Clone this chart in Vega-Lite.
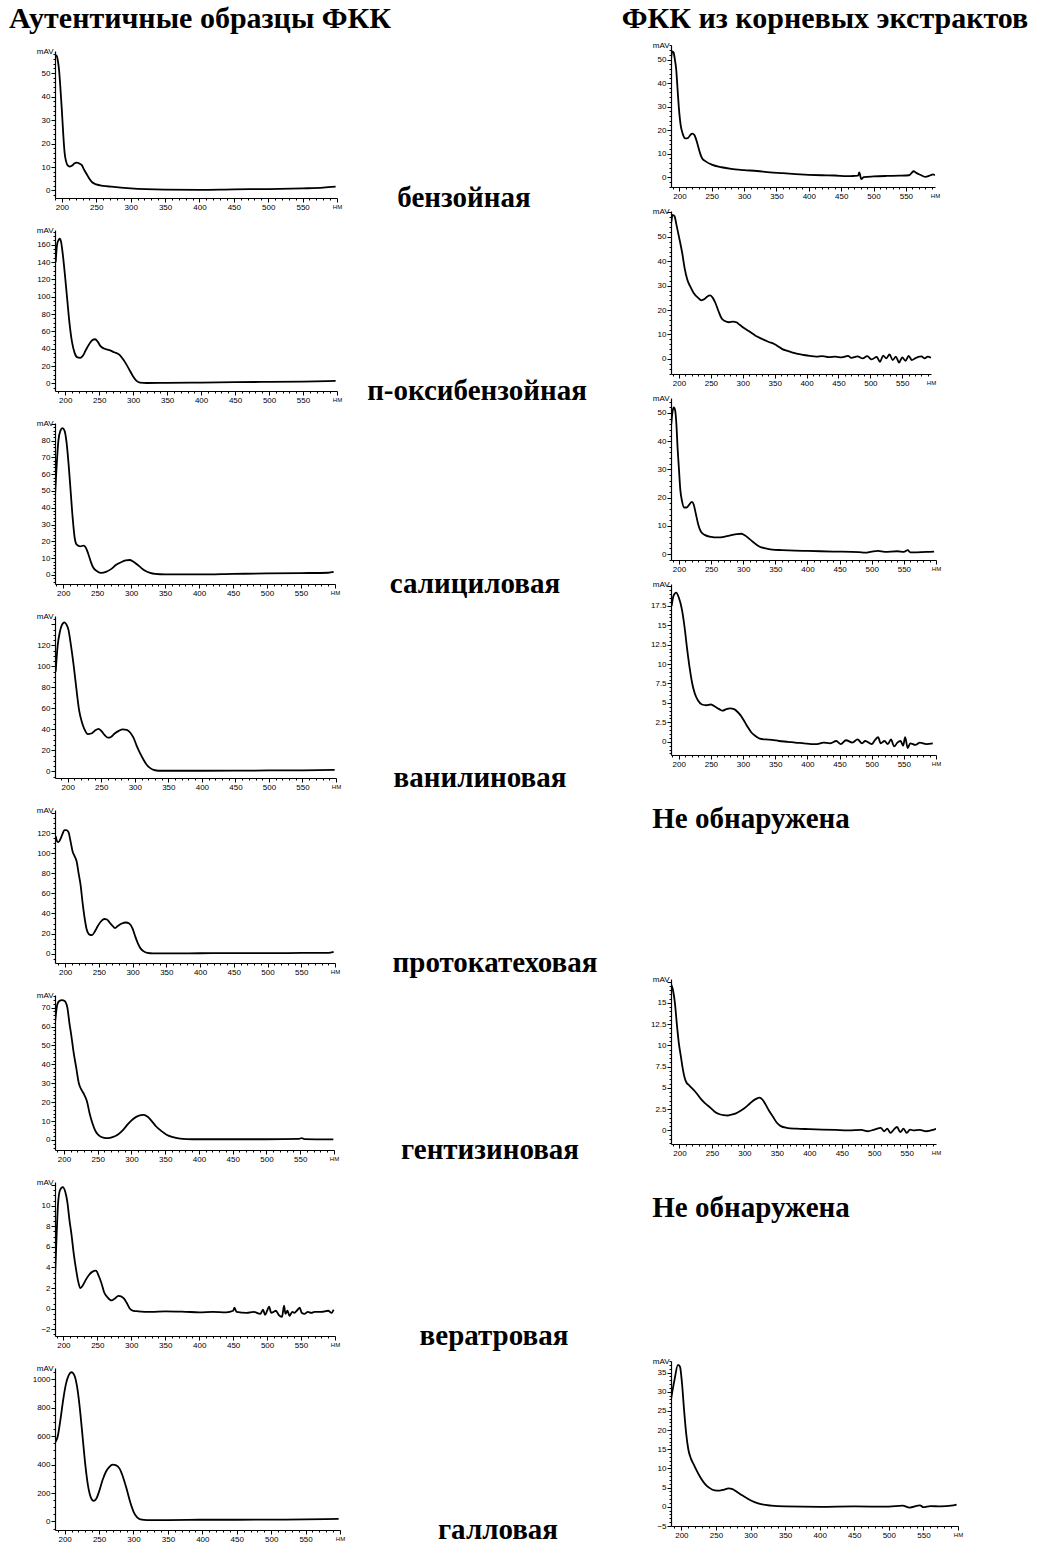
{
"$schema": "https://vega.github.io/schema/vega-lite/v6.json",
"background": "white",
"padding": {"left": 8, "top": 4, "right": 0, "bottom": 0},
"spacing": 23,
"datasets": {
"hdr_l": [{"t": "Аутентичные образцы ФКК"}],
"hdr_r": [{"t": "ФКК из корневых экстрактов"}],
"note": [{"t": "Не обнаружена"}],
"benz_a": [{"nm":190,"mAV":57},{"nm":192,"mAV":57.5},{"nm":194,"mAV":55.5},{"nm":196,"mAV":51},{"nm":198,"mAV":43},{"nm":200,"mAV":34},{"nm":202,"mAV":24},{"nm":204,"mAV":16},{"nm":206,"mAV":12.5},{"nm":209,"mAV":10.5},{"nm":212,"mAV":10.2},{"nm":215,"mAV":10.6},{"nm":218,"mAV":11.5},{"nm":222,"mAV":11.9},{"nm":226,"mAV":11.4},{"nm":229,"mAV":10.8},{"nm":232,"mAV":9},{"nm":236,"mAV":7},{"nm":240,"mAV":5},{"nm":244,"mAV":3.5},{"nm":250,"mAV":2.6},{"nm":260,"mAV":2},{"nm":272,"mAV":1.6},{"nm":300,"mAV":0.9},{"nm":350,"mAV":0.4},{"nm":400,"mAV":0.3},{"nm":450,"mAV":0.5},{"nm":500,"mAV":0.6},{"nm":550,"mAV":0.9},{"nm":580,"mAV":1.2},{"nm":598,"mAV":1.6}],
"benz_r": [{"nm":187,"mAV":50},{"nm":189,"mAV":53.5},{"nm":191,"mAV":53},{"nm":193,"mAV":50},{"nm":195,"mAV":46},{"nm":197,"mAV":38},{"nm":199,"mAV":30},{"nm":202,"mAV":22},{"nm":205,"mAV":18.5},{"nm":209,"mAV":16.5},{"nm":213,"mAV":16.6},{"nm":217,"mAV":18},{"nm":220,"mAV":18.5},{"nm":223,"mAV":18},{"nm":227,"mAV":15},{"nm":231,"mAV":11},{"nm":235,"mAV":8},{"nm":240,"mAV":6.8},{"nm":250,"mAV":5.3},{"nm":265,"mAV":4.2},{"nm":280,"mAV":3.5},{"nm":300,"mAV":3},{"nm":320,"mAV":2.6},{"nm":340,"mAV":2},{"nm":360,"mAV":1.7},{"nm":380,"mAV":1.3},{"nm":400,"mAV":1.0},{"nm":420,"mAV":0.8},{"nm":440,"mAV":0.7},{"nm":460,"mAV":0.4},{"nm":470,"mAV":0.5},{"nm":476,"mAV":0.6},{"nm":478,"mAV":2.0},{"nm":481,"mAV":-0.8},{"nm":485,"mAV":0},{"nm":500,"mAV":0.3},{"nm":520,"mAV":0.5},{"nm":540,"mAV":0.6},{"nm":555,"mAV":0.8},{"nm":562,"mAV":2.5},{"nm":566,"mAV":1.8},{"nm":572,"mAV":1.0},{"nm":580,"mAV":0.1},{"nm":588,"mAV":0.8},{"nm":592,"mAV":1.2},{"nm":595,"mAV":0.8}],
"phb_a": [{"nm":186,"mAV":140},{"nm":188,"mAV":160},{"nm":190,"mAV":165},{"nm":192,"mAV":167},{"nm":194,"mAV":163},{"nm":196,"mAV":152},{"nm":198,"mAV":138},{"nm":200,"mAV":122},{"nm":203,"mAV":97},{"nm":206,"mAV":72},{"nm":210,"mAV":48},{"nm":214,"mAV":35},{"nm":218,"mAV":30},{"nm":222,"mAV":29.5},{"nm":226,"mAV":32},{"nm":230,"mAV":38},{"nm":235,"mAV":45},{"nm":240,"mAV":50},{"nm":244,"mAV":51},{"nm":248,"mAV":48},{"nm":252,"mAV":43},{"nm":258,"mAV":40},{"nm":265,"mAV":38.5},{"nm":272,"mAV":36},{"nm":280,"mAV":33},{"nm":286,"mAV":27},{"nm":290,"mAV":22},{"nm":295,"mAV":15},{"nm":300,"mAV":8},{"nm":305,"mAV":3},{"nm":310,"mAV":1},{"nm":320,"mAV":0.5},{"nm":350,"mAV":0.7},{"nm":400,"mAV":1},{"nm":450,"mAV":1.5},{"nm":500,"mAV":1.8},{"nm":550,"mAV":2.2},{"nm":598,"mAV":3}],
"phb_r": [{"nm":188,"mAV":56},{"nm":190,"mAV":59},{"nm":193,"mAV":58.5},{"nm":196,"mAV":55},{"nm":200,"mAV":50},{"nm":205,"mAV":43.5},{"nm":209,"mAV":37},{"nm":213,"mAV":32.5},{"nm":218,"mAV":29.5},{"nm":223,"mAV":27},{"nm":230,"mAV":25},{"nm":235,"mAV":24},{"nm":240,"mAV":24.5},{"nm":244,"mAV":25.5},{"nm":249,"mAV":26},{"nm":253,"mAV":25},{"nm":257,"mAV":23},{"nm":262,"mAV":19.5},{"nm":267,"mAV":16.5},{"nm":272,"mAV":15.5},{"nm":278,"mAV":15},{"nm":285,"mAV":15.3},{"nm":290,"mAV":15},{"nm":295,"mAV":14},{"nm":300,"mAV":13},{"nm":310,"mAV":11.3},{"nm":320,"mAV":9.5},{"nm":330,"mAV":8.2},{"nm":340,"mAV":7},{"nm":350,"mAV":6},{"nm":355,"mAV":5.2},{"nm":362,"mAV":4},{"nm":370,"mAV":3.3},{"nm":378,"mAV":2.6},{"nm":386,"mAV":2},{"nm":395,"mAV":1.6},{"nm":405,"mAV":1.2},{"nm":415,"mAV":0.9},{"nm":425,"mAV":1.1},{"nm":435,"mAV":0.7},{"nm":445,"mAV":0.9},{"nm":455,"mAV":0.6},{"nm":465,"mAV":1.2},{"nm":470,"mAV":0.4},{"nm":480,"mAV":1.0},{"nm":488,"mAV":0.2},{"nm":495,"mAV":1.1},{"nm":502,"mAV":-0.2},{"nm":510,"mAV":0.8},{"nm":515,"mAV":-1.2},{"nm":520,"mAV":1.3},{"nm":525,"mAV":0.2},{"nm":530,"mAV":1.8},{"nm":535,"mAV":-0.5},{"nm":540,"mAV":0.9},{"nm":545,"mAV":-1.5},{"nm":550,"mAV":0.6},{"nm":555,"mAV":-0.8},{"nm":560,"mAV":1.2},{"nm":565,"mAV":-0.5},{"nm":570,"mAV":0.2},{"nm":575,"mAV":0.8},{"nm":580,"mAV":1.0},{"nm":585,"mAV":0.2},{"nm":590,"mAV":0.9},{"nm":595,"mAV":0.5}],
"sal_a": [{"nm":188,"mAV":47},{"nm":190,"mAV":62},{"nm":193,"mAV":80},{"nm":196,"mAV":86},{"nm":199,"mAV":87.5},{"nm":202,"mAV":86},{"nm":205,"mAV":79},{"nm":208,"mAV":66},{"nm":211,"mAV":50},{"nm":214,"mAV":34},{"nm":217,"mAV":22},{"nm":220,"mAV":18},{"nm":225,"mAV":17},{"nm":230,"mAV":17.5},{"nm":233,"mAV":16.5},{"nm":237,"mAV":12.5},{"nm":241,"mAV":7.5},{"nm":244,"mAV":4.6},{"nm":250,"mAV":2.2},{"nm":256,"mAV":1.2},{"nm":263,"mAV":1.8},{"nm":271,"mAV":3.6},{"nm":278,"mAV":6},{"nm":286,"mAV":7.7},{"nm":292,"mAV":8.6},{"nm":298,"mAV":8.9},{"nm":303,"mAV":8},{"nm":308,"mAV":6.5},{"nm":314,"mAV":4.5},{"nm":320,"mAV":2.6},{"nm":328,"mAV":1.2},{"nm":335,"mAV":0.6},{"nm":350,"mAV":0.3},{"nm":400,"mAV":0.3},{"nm":450,"mAV":0.6},{"nm":500,"mAV":0.9},{"nm":550,"mAV":1.1},{"nm":590,"mAV":1.3},{"nm":598,"mAV":1.8}],
"sal_r": [{"nm":188,"mAV":46},{"nm":190,"mAV":50.5},{"nm":192,"mAV":52},{"nm":194,"mAV":51},{"nm":196,"mAV":46},{"nm":198,"mAV":37},{"nm":200,"mAV":30},{"nm":202,"mAV":23},{"nm":205,"mAV":18.5},{"nm":208,"mAV":16.5},{"nm":212,"mAV":16.5},{"nm":216,"mAV":17.5},{"nm":220,"mAV":18.5},{"nm":223,"mAV":17.5},{"nm":226,"mAV":14.5},{"nm":230,"mAV":10.5},{"nm":234,"mAV":8},{"nm":240,"mAV":6.8},{"nm":250,"mAV":6.1},{"nm":260,"mAV":5.9},{"nm":270,"mAV":6.1},{"nm":280,"mAV":6.6},{"nm":290,"mAV":7.1},{"nm":297,"mAV":7.2},{"nm":303,"mAV":6.6},{"nm":310,"mAV":5.3},{"nm":318,"mAV":3.8},{"nm":325,"mAV":2.7},{"nm":335,"mAV":2},{"nm":345,"mAV":1.6},{"nm":360,"mAV":1.4},{"nm":380,"mAV":1.2},{"nm":400,"mAV":1.1},{"nm":440,"mAV":0.9},{"nm":480,"mAV":0.7},{"nm":490,"mAV":0.5},{"nm":500,"mAV":0.9},{"nm":510,"mAV":1.1},{"nm":520,"mAV":0.8},{"nm":540,"mAV":1.0},{"nm":550,"mAV":0.8},{"nm":556,"mAV":1.4},{"nm":560,"mAV":0.6},{"nm":570,"mAV":0.6},{"nm":590,"mAV":0.8},{"nm":597,"mAV":0.9}],
"van_a": [{"nm":182,"mAV":95},{"nm":185,"mAV":120},{"nm":188,"mAV":132},{"nm":191,"mAV":139},{"nm":195,"mAV":142},{"nm":198,"mAV":140},{"nm":201,"mAV":135},{"nm":205,"mAV":119},{"nm":209,"mAV":100},{"nm":213,"mAV":78},{"nm":217,"mAV":58},{"nm":221,"mAV":47},{"nm":225,"mAV":40},{"nm":230,"mAV":35.5},{"nm":235,"mAV":36},{"nm":240,"mAV":38.5},{"nm":246,"mAV":40.5},{"nm":250,"mAV":38.5},{"nm":255,"mAV":34.5},{"nm":260,"mAV":32},{"nm":265,"mAV":33},{"nm":270,"mAV":36},{"nm":276,"mAV":38.5},{"nm":282,"mAV":40},{"nm":288,"mAV":39.5},{"nm":293,"mAV":37},{"nm":298,"mAV":32},{"nm":303,"mAV":24},{"nm":308,"mAV":17},{"nm":313,"mAV":11},{"nm":318,"mAV":6},{"nm":323,"mAV":3},{"nm":330,"mAV":1},{"nm":340,"mAV":0.5},{"nm":400,"mAV":0.5},{"nm":450,"mAV":0.6},{"nm":500,"mAV":0.8},{"nm":550,"mAV":0.9},{"nm":598,"mAV":1.3}],
"van_r": [{"nm":189,"mAV":17.5},{"nm":192,"mAV":18.8},{"nm":196,"mAV":19.2},{"nm":200,"mAV":18.6},{"nm":205,"mAV":17},{"nm":209,"mAV":14.8},{"nm":213,"mAV":12},{"nm":217,"mAV":9.5},{"nm":221,"mAV":7.5},{"nm":225,"mAV":6.2},{"nm":230,"mAV":5.3},{"nm":236,"mAV":4.8},{"nm":243,"mAV":4.7},{"nm":250,"mAV":4.8},{"nm":257,"mAV":4.5},{"nm":263,"mAV":4.2},{"nm":268,"mAV":4.0},{"nm":274,"mAV":4.2},{"nm":280,"mAV":4.3},{"nm":286,"mAV":4.2},{"nm":292,"mAV":3.8},{"nm":298,"mAV":3.2},{"nm":303,"mAV":2.5},{"nm":308,"mAV":1.8},{"nm":313,"mAV":1.2},{"nm":320,"mAV":0.7},{"nm":326,"mAV":0.4},{"nm":335,"mAV":0.3},{"nm":345,"mAV":0.25},{"nm":356,"mAV":0.1},{"nm":370,"mAV":0},{"nm":381,"mAV":-0.1},{"nm":395,"mAV":-0.2},{"nm":406,"mAV":-0.3},{"nm":415,"mAV":-0.3},{"nm":425,"mAV":-0.1},{"nm":435,"mAV":-0.2},{"nm":445,"mAV":0.1},{"nm":452,"mAV":-0.3},{"nm":460,"mAV":0.2},{"nm":470,"mAV":-0.1},{"nm":478,"mAV":0.3},{"nm":485,"mAV":-0.2},{"nm":490,"mAV":0.1},{"nm":500,"mAV":-0.3},{"nm":505,"mAV":0.2},{"nm":510,"mAV":0.6},{"nm":514,"mAV":-0.2},{"nm":520,"mAV":0.1},{"nm":525,"mAV":-0.3},{"nm":530,"mAV":0.3},{"nm":535,"mAV":-0.6},{"nm":540,"mAV":-0.1},{"nm":545,"mAV":0.1},{"nm":549,"mAV":-0.5},{"nm":552,"mAV":0.6},{"nm":556,"mAV":-0.8},{"nm":560,"mAV":-0.2},{"nm":568,"mAV":-0.4},{"nm":575,"mAV":-0.1},{"nm":585,"mAV":-0.3},{"nm":595,"mAV":-0.2}],
"pro_a": [{"nm":186,"mAV":117},{"nm":188,"mAV":112},{"nm":190,"mAV":111},{"nm":193,"mAV":114},{"nm":196,"mAV":119},{"nm":199,"mAV":123},{"nm":202,"mAV":123},{"nm":205,"mAV":121},{"nm":208,"mAV":112},{"nm":211,"mAV":102},{"nm":214,"mAV":97},{"nm":217,"mAV":92},{"nm":220,"mAV":80},{"nm":223,"mAV":68},{"nm":226,"mAV":50},{"nm":229,"mAV":35},{"nm":232,"mAV":24},{"nm":236,"mAV":19},{"nm":240,"mAV":18.5},{"nm":244,"mAV":22},{"nm":248,"mAV":27},{"nm":253,"mAV":32},{"nm":258,"mAV":34.5},{"nm":262,"mAV":34},{"nm":266,"mAV":31},{"nm":270,"mAV":28},{"nm":274,"mAV":25.5},{"nm":278,"mAV":27.5},{"nm":284,"mAV":30},{"nm":290,"mAV":31},{"nm":295,"mAV":30},{"nm":300,"mAV":25},{"nm":304,"mAV":17},{"nm":308,"mAV":10},{"nm":312,"mAV":5},{"nm":316,"mAV":2.5},{"nm":322,"mAV":0.8},{"nm":330,"mAV":0.3},{"nm":350,"mAV":0.3},{"nm":400,"mAV":0.4},{"nm":450,"mAV":0.5},{"nm":500,"mAV":0.5},{"nm":550,"mAV":0.7},{"nm":590,"mAV":0.8},{"nm":598,"mAV":1.8}],
"gen_a": [{"nm":187,"mAV":63},{"nm":190,"mAV":71.5},{"nm":193,"mAV":73.5},{"nm":197,"mAV":74},{"nm":201,"mAV":73.5},{"nm":205,"mAV":70},{"nm":208,"mAV":62},{"nm":211,"mAV":55},{"nm":214,"mAV":47},{"nm":218,"mAV":38.5},{"nm":222,"mAV":30},{"nm":226,"mAV":26.5},{"nm":230,"mAV":24},{"nm":234,"mAV":20.5},{"nm":238,"mAV":14},{"nm":242,"mAV":9},{"nm":247,"mAV":4.5},{"nm":252,"mAV":2.3},{"nm":258,"mAV":1.3},{"nm":265,"mAV":1},{"nm":272,"mAV":1.5},{"nm":280,"mAV":2.9},{"nm":288,"mAV":5.5},{"nm":295,"mAV":8.5},{"nm":302,"mAV":11},{"nm":310,"mAV":12.8},{"nm":318,"mAV":13.3},{"nm":324,"mAV":12.3},{"nm":330,"mAV":10},{"nm":337,"mAV":7},{"nm":344,"mAV":4.8},{"nm":352,"mAV":2.8},{"nm":360,"mAV":1.6},{"nm":372,"mAV":0.7},{"nm":390,"mAV":0.4},{"nm":450,"mAV":0.4},{"nm":500,"mAV":0.4},{"nm":548,"mAV":0.6},{"nm":552,"mAV":1.0},{"nm":556,"mAV":0.5},{"nm":599,"mAV":0.3}],
"gen_r": [{"nm":187,"mAV":17.2},{"nm":190,"mAV":16.5},{"nm":193,"mAV":15},{"nm":196,"mAV":12.5},{"nm":199,"mAV":10.3},{"nm":202,"mAV":8.8},{"nm":205,"mAV":7.3},{"nm":208,"mAV":6.2},{"nm":211,"mAV":5.6},{"nm":215,"mAV":5.3},{"nm":220,"mAV":4.9},{"nm":226,"mAV":4.4},{"nm":232,"mAV":3.8},{"nm":238,"mAV":3.3},{"nm":244,"mAV":2.9},{"nm":250,"mAV":2.5},{"nm":256,"mAV":2.1},{"nm":262,"mAV":1.9},{"nm":268,"mAV":1.8},{"nm":274,"mAV":1.75},{"nm":280,"mAV":1.85},{"nm":287,"mAV":2.0},{"nm":294,"mAV":2.3},{"nm":300,"mAV":2.6},{"nm":306,"mAV":3.0},{"nm":312,"mAV":3.4},{"nm":318,"mAV":3.7},{"nm":323,"mAV":3.85},{"nm":328,"mAV":3.6},{"nm":333,"mAV":3.0},{"nm":338,"mAV":2.3},{"nm":344,"mAV":1.6},{"nm":350,"mAV":0.9},{"nm":356,"mAV":0.5},{"nm":365,"mAV":0.3},{"nm":380,"mAV":0.2},{"nm":400,"mAV":0.15},{"nm":420,"mAV":0.1},{"nm":440,"mAV":0.05},{"nm":460,"mAV":0},{"nm":480,"mAV":0.05},{"nm":490,"mAV":-0.1},{"nm":500,"mAV":0.1},{"nm":510,"mAV":0.3},{"nm":515,"mAV":-0.1},{"nm":520,"mAV":0.2},{"nm":525,"mAV":-0.3},{"nm":530,"mAV":0.1},{"nm":535,"mAV":0.4},{"nm":540,"mAV":-0.2},{"nm":545,"mAV":0.2},{"nm":550,"mAV":-0.3},{"nm":555,"mAV":0.1},{"nm":560,"mAV":0},{"nm":570,"mAV":0.05},{"nm":580,"mAV":-0.1},{"nm":590,"mAV":0.05},{"nm":595,"mAV":0.2}],
"ver_a": [{"nm":188,"mAV":3.5},{"nm":190,"mAV":7},{"nm":192,"mAV":10},{"nm":195,"mAV":11.5},{"nm":199,"mAV":11.8},{"nm":203,"mAV":11.3},{"nm":206,"mAV":10.3},{"nm":209,"mAV":8.6},{"nm":212,"mAV":7.2},{"nm":215,"mAV":5.5},{"nm":219,"mAV":3.7},{"nm":222,"mAV":2.6},{"nm":225,"mAV":2.0},{"nm":229,"mAV":2.3},{"nm":233,"mAV":2.8},{"nm":238,"mAV":3.3},{"nm":243,"mAV":3.6},{"nm":248,"mAV":3.7},{"nm":252,"mAV":3.2},{"nm":256,"mAV":2.5},{"nm":260,"mAV":1.6},{"nm":265,"mAV":1.1},{"nm":271,"mAV":0.8},{"nm":276,"mAV":1.0},{"nm":281,"mAV":1.25},{"nm":285,"mAV":1.2},{"nm":289,"mAV":1.0},{"nm":293,"mAV":0.6},{"nm":298,"mAV":0},{"nm":303,"mAV":-0.2},{"nm":310,"mAV":-0.25},{"nm":330,"mAV":-0.3},{"nm":350,"mAV":-0.25},{"nm":380,"mAV":-0.3},{"nm":400,"mAV":-0.35},{"nm":420,"mAV":-0.3},{"nm":440,"mAV":-0.35},{"nm":450,"mAV":-0.2},{"nm":452,"mAV":0.1},{"nm":455,"mAV":-0.3},{"nm":470,"mAV":-0.4},{"nm":480,"mAV":-0.3},{"nm":490,"mAV":-0.5},{"nm":494,"mAV":-0.1},{"nm":497,"mAV":-0.6},{"nm":500,"mAV":-0.2},{"nm":503,"mAV":0.2},{"nm":506,"mAV":-0.4},{"nm":510,"mAV":-0.3},{"nm":513,"mAV":-0.2},{"nm":517,"mAV":-0.6},{"nm":522,"mAV":-0.8},{"nm":525,"mAV":0.3},{"nm":527,"mAV":-0.5},{"nm":530,"mAV":-0.2},{"nm":533,"mAV":-0.7},{"nm":537,"mAV":-0.3},{"nm":540,"mAV":-0.4},{"nm":545,"mAV":-0.1},{"nm":548,"mAV":0.1},{"nm":551,"mAV":-0.4},{"nm":555,"mAV":-0.5},{"nm":560,"mAV":-0.3},{"nm":565,"mAV":-0.4},{"nm":570,"mAV":-0.3},{"nm":580,"mAV":-0.3},{"nm":590,"mAV":-0.2},{"nm":595,"mAV":-0.4},{"nm":598,"mAV":-0.1}],
"gal_a": [{"nm":187,"mAV":560},{"nm":190,"mAV":600},{"nm":194,"mAV":720},{"nm":198,"mAV":860},{"nm":202,"mAV":970},{"nm":206,"mAV":1030},{"nm":210,"mAV":1050},{"nm":214,"mAV":1030},{"nm":218,"mAV":950},{"nm":222,"mAV":800},{"nm":226,"mAV":600},{"nm":230,"mAV":400},{"nm":234,"mAV":250},{"nm":238,"mAV":170},{"nm":242,"mAV":145},{"nm":246,"mAV":160},{"nm":250,"mAV":210},{"nm":255,"mAV":290},{"nm":260,"mAV":350},{"nm":265,"mAV":385},{"nm":270,"mAV":400},{"nm":275,"mAV":395},{"nm":280,"mAV":370},{"nm":285,"mAV":310},{"nm":290,"mAV":230},{"nm":295,"mAV":140},{"nm":300,"mAV":70},{"nm":305,"mAV":30},{"nm":310,"mAV":15},{"nm":320,"mAV":10},{"nm":350,"mAV":10},{"nm":400,"mAV":12},{"nm":450,"mAV":12},{"nm":500,"mAV":13},{"nm":550,"mAV":15},{"nm":598,"mAV":18}],
"gal_r": [{"nm":185,"mAV":28},{"nm":190,"mAV":33},{"nm":195,"mAV":37},{"nm":198,"mAV":36.5},{"nm":201,"mAV":32},{"nm":204,"mAV":25},{"nm":207,"mAV":19},{"nm":210,"mAV":15},{"nm":214,"mAV":12.5},{"nm":218,"mAV":11},{"nm":222,"mAV":9.5},{"nm":228,"mAV":7.5},{"nm":234,"mAV":6},{"nm":240,"mAV":5},{"nm":248,"mAV":4.3},{"nm":255,"mAV":4.2},{"nm":262,"mAV":4.5},{"nm":268,"mAV":4.8},{"nm":274,"mAV":4.6},{"nm":280,"mAV":3.9},{"nm":288,"mAV":3},{"nm":296,"mAV":2.1},{"nm":305,"mAV":1.3},{"nm":315,"mAV":0.7},{"nm":330,"mAV":0.3},{"nm":350,"mAV":0.1},{"nm":400,"mAV":0},{"nm":450,"mAV":0.1},{"nm":500,"mAV":0.05},{"nm":520,"mAV":0.3},{"nm":530,"mAV":-0.2},{"nm":545,"mAV":0.4},{"nm":550,"mAV":-0.1},{"nm":560,"mAV":0.2},{"nm":575,"mAV":0.1},{"nm":590,"mAV":0.3},{"nm":598,"mAV":0.6}]
},
"hconcat": [
{
"spacing": 13,
"vconcat": [
{"width": 290, "height": 28, "data": {"name": "hdr_l"},
 "mark": {"type": "text", "align": "center", "baseline": "middle", "font": "Liberation Serif", "fontSize": 30, "fontWeight": "bold", "color": "black"},
 "encoding": {"text": {"field": "t", "type": "nominal"}}},
{"width": 282, "height": 147, "data": {"name": "benz_a"},
 "mark": {"type": "line", "color": "black", "strokeWidth": 1.8, "interpolate": "monotone", "clip": true},
 "encoding": {
  "x": {"field": "nm", "type": "quantitative", "scale": {"domain": [190, 600], "nice": false, "zero": false}, "axis": {"title": "НМ", "titleX": 282, "tickCount": 41, "labelExpr": "datum.value % 50 === 0 && datum.value >= 200 && datum.value <= 550 ? datum.label : ''", "tickSize": {"condition": {"test": "datum.value % 50 === 0", "value": 4}, "value": 2}}},
  "y": {"field": "mAV", "type": "quantitative", "scale": {"domain": [-3.2, 59.4], "nice": false, "zero": false}, "axis": {"title": "mAV", "tickCount": 31, "labelExpr": "datum.value % 10 === 0 && datum.value <= 50 ? format(datum.value, '~g') : ''", "tickSize": {"condition": {"test": "datum.value % 10 === 0", "value": 4}, "value": 2}}}},
 "title": {"text": "бензойная", "orient": "bottom", "anchor": "end", "frame": "group", "align": "center", "baseline": "middle", "offset": -13, "dx": 127}},
{"width": 282, "height": 161, "data": {"name": "phb_a"},
 "mark": {"type": "line", "color": "black", "strokeWidth": 1.8, "interpolate": "monotone", "clip": true},
 "encoding": {
  "x": {"field": "nm", "type": "quantitative", "scale": {"domain": [185, 600], "nice": false, "zero": false}, "axis": {"title": "НМ", "titleX": 282, "tickCount": 41, "labelExpr": "datum.value % 50 === 0 && datum.value >= 200 && datum.value <= 550 ? datum.label : ''", "tickSize": {"condition": {"test": "datum.value % 50 === 0", "value": 4}, "value": 2}}},
  "y": {"field": "mAV", "type": "quantitative", "scale": {"domain": [-8.7, 177], "nice": false, "zero": false}, "axis": {"title": "mAV", "tickCount": 37, "labelExpr": "datum.value % 20 === 0 && datum.value <= 160 ? format(datum.value, '~g') : ''", "tickSize": {"condition": {"test": "datum.value % 20 === 0", "value": 4}, "value": 2}}}},
 "title": {"text": "п-оксибензойная", "orient": "bottom", "anchor": "end", "frame": "group", "align": "center", "baseline": "middle", "offset": -13, "dx": 140}},
{"width": 280, "height": 161, "data": {"name": "sal_a"},
 "mark": {"type": "line", "color": "black", "strokeWidth": 1.8, "interpolate": "monotone", "clip": true},
 "encoding": {
  "x": {"field": "nm", "type": "quantitative", "scale": {"domain": [188, 600], "nice": false, "zero": false}, "axis": {"title": "НМ", "titleX": 280, "tickCount": 41, "labelExpr": "datum.value % 50 === 0 && datum.value >= 200 && datum.value <= 550 ? datum.label : ''", "tickSize": {"condition": {"test": "datum.value % 50 === 0", "value": 4}, "value": 2}}},
  "y": {"field": "mAV", "type": "quantitative", "scale": {"domain": [-5.4, 90.5], "nice": false, "zero": false}, "axis": {"title": "mAV", "tickCount": 48, "labelExpr": "datum.value % 10 === 0 && datum.value <= 80 ? format(datum.value, '~g') : ''", "tickSize": {"condition": {"test": "datum.value % 10 === 0", "value": 4}, "value": 2}}}},
 "title": {"text": "салициловая", "orient": "bottom", "anchor": "end", "frame": "group", "align": "center", "baseline": "middle", "offset": -13, "dx": 140}},
{"width": 281, "height": 162, "data": {"name": "van_a"},
 "mark": {"type": "line", "color": "black", "strokeWidth": 1.8, "interpolate": "monotone", "clip": true},
 "encoding": {
  "x": {"field": "nm", "type": "quantitative", "scale": {"domain": [181, 600], "nice": false, "zero": false}, "axis": {"title": "НМ", "titleX": 281, "tickCount": 41, "labelExpr": "datum.value % 50 === 0 && datum.value >= 200 && datum.value <= 550 ? datum.label : ''", "tickSize": {"condition": {"test": "datum.value % 50 === 0", "value": 4}, "value": 2}}},
  "y": {"field": "mAV", "type": "quantitative", "scale": {"domain": [-6.4, 148], "nice": false, "zero": false}, "axis": {"title": "mAV", "tickCount": 31, "labelExpr": "datum.value % 20 === 0 && datum.value <= 120 ? format(datum.value, '~g') : ''", "tickSize": {"condition": {"test": "datum.value % 20 === 0", "value": 4}, "value": 2}}}},
 "title": {"text": "ванилиновая", "orient": "bottom", "anchor": "end", "frame": "group", "align": "center", "baseline": "middle", "offset": -13, "dx": 144}},
{"width": 280, "height": 153, "data": {"name": "pro_a"},
 "mark": {"type": "line", "color": "black", "strokeWidth": 1.8, "interpolate": "monotone", "clip": true},
 "encoding": {
  "x": {"field": "nm", "type": "quantitative", "scale": {"domain": [185, 600], "nice": false, "zero": false}, "axis": {"title": "НМ", "titleX": 280, "tickCount": 41, "labelExpr": "datum.value % 50 === 0 && datum.value >= 200 && datum.value <= 550 ? datum.label : ''", "tickSize": {"condition": {"test": "datum.value % 50 === 0", "value": 4}, "value": 2}}},
  "y": {"field": "mAV", "type": "quantitative", "scale": {"domain": [-9.3, 143], "nice": false, "zero": false}, "axis": {"title": "mAV", "tickCount": 30, "labelExpr": "datum.value % 20 === 0 && datum.value <= 120 ? format(datum.value, '~g') : ''", "tickSize": {"condition": {"test": "datum.value % 20 === 0", "value": 4}, "value": 2}}}},
 "title": {"text": "протокатеховая", "orient": "bottom", "anchor": "end", "frame": "group", "align": "center", "baseline": "middle", "offset": -13, "dx": 160}},
{"width": 279, "height": 155, "data": {"name": "gen_a"},
 "mark": {"type": "line", "color": "black", "strokeWidth": 1.8, "interpolate": "monotone", "clip": true},
 "encoding": {
  "x": {"field": "nm", "type": "quantitative", "scale": {"domain": [186.7, 600], "nice": false, "zero": false}, "axis": {"title": "НМ", "titleX": 279, "tickCount": 41, "labelExpr": "datum.value % 50 === 0 && datum.value >= 200 && datum.value <= 550 ? datum.label : ''", "tickSize": {"condition": {"test": "datum.value % 50 === 0", "value": 4}, "value": 2}}},
  "y": {"field": "mAV", "type": "quantitative", "scale": {"domain": [-5.3, 76.7], "nice": false, "zero": false}, "axis": {"title": "mAV", "tickCount": 41, "labelExpr": "datum.value % 10 === 0 && datum.value <= 70 ? format(datum.value, '~g') : ''", "tickSize": {"condition": {"test": "datum.value % 10 === 0", "value": 4}, "value": 2}}}},
 "title": {"text": "гентизиновая", "orient": "bottom", "anchor": "end", "frame": "group", "align": "center", "baseline": "middle", "offset": -13, "dx": 156}},
{"width": 280, "height": 154, "data": {"name": "ver_a"},
 "mark": {"type": "line", "color": "black", "strokeWidth": 1.8, "interpolate": "monotone", "clip": true},
 "encoding": {
  "x": {"field": "nm", "type": "quantitative", "scale": {"domain": [187.7, 600], "nice": false, "zero": false}, "axis": {"title": "НМ", "titleX": 280, "tickCount": 41, "labelExpr": "datum.value % 50 === 0 && datum.value >= 200 && datum.value <= 550 ? datum.label : ''", "tickSize": {"condition": {"test": "datum.value % 50 === 0", "value": 4}, "value": 2}}},
  "y": {"field": "mAV", "type": "quantitative", "scale": {"domain": [-2.65, 12.3], "nice": false, "zero": false}, "axis": {"title": "mAV", "tickCount": 30, "labelExpr": "datum.value % 2 === 0 && datum.value <= 10 ? format(datum.value, '~g') : ''", "tickSize": {"condition": {"test": "datum.value % 2 === 0", "value": 4}, "value": 2}}}},
 "title": {"text": "вератровая", "orient": "bottom", "anchor": "end", "frame": "group", "align": "center", "baseline": "middle", "offset": -13, "dx": 159}},
{"width": 285, "height": 162, "data": {"name": "gal_a"},
 "mark": {"type": "line", "color": "black", "strokeWidth": 1.8, "interpolate": "monotone", "clip": true},
 "encoding": {
  "x": {"field": "nm", "type": "quantitative", "scale": {"domain": [186, 600], "nice": false, "zero": false}, "axis": {"title": "НМ", "titleX": 285, "tickCount": 41, "labelExpr": "datum.value % 50 === 0 && datum.value >= 200 && datum.value <= 550 ? datum.label : ''", "tickSize": {"condition": {"test": "datum.value % 50 === 0", "value": 4}, "value": 2}}},
  "y": {"field": "mAV", "type": "quantitative", "scale": {"domain": [-60, 1080], "nice": false, "zero": false}, "axis": {"title": "mAV", "tickCount": 23, "labelExpr": "datum.value % 200 === 0 && datum.value <= 1000 ? format(datum.value, '~g') : ''", "tickSize": {"condition": {"test": "datum.value % 200 === 0", "value": 4}, "value": 2}}}},
 "title": {"text": "галловая", "orient": "bottom", "anchor": "end", "frame": "group", "align": "center", "baseline": "middle", "offset": -13, "dx": 158}}
]
},
{
"spacing": 37,
"vconcat": [
{"spacing": 7, "vconcat": [
{"width": 308, "height": 28, "data": {"name": "hdr_r"},
 "mark": {"type": "text", "align": "center", "baseline": "middle", "font": "Liberation Serif", "fontSize": 30, "fontWeight": "bold", "color": "black"},
 "encoding": {"text": {"field": "t", "type": "nominal"}}},
{"width": 264, "height": 142, "data": {"name": "benz_r"},
 "mark": {"type": "line", "color": "black", "strokeWidth": 1.8, "interpolate": "monotone", "clip": true},
 "encoding": {
  "x": {"field": "nm", "type": "quantitative", "scale": {"domain": [187, 595], "nice": false, "zero": false}, "axis": {"title": "НМ", "titleX": 264, "tickCount": 41, "labelExpr": "datum.value % 50 === 0 && datum.value >= 200 && datum.value <= 550 ? datum.label : ''", "tickSize": {"condition": {"test": "datum.value % 50 === 0", "value": 4}, "value": 2}}},
  "y": {"field": "mAV", "type": "quantitative", "scale": {"domain": [-4.2, 56.2], "nice": false, "zero": false}, "axis": {"title": "mAV", "tickCount": 30, "labelExpr": "datum.value % 10 === 0 && datum.value <= 50 ? format(datum.value, '~g') : ''", "tickSize": {"condition": {"test": "datum.value % 10 === 0", "value": 4}, "value": 2}}}}},
{"width": 260, "height": 163, "data": {"name": "phb_r"},
 "mark": {"type": "line", "color": "black", "strokeWidth": 1.8, "interpolate": "monotone", "clip": true},
 "encoding": {
  "x": {"field": "nm", "type": "quantitative", "scale": {"domain": [187.5, 595], "nice": false, "zero": false}, "axis": {"title": "НМ", "titleX": 260, "tickCount": 41, "labelExpr": "datum.value % 50 === 0 && datum.value >= 200 && datum.value <= 550 ? datum.label : ''", "tickSize": {"condition": {"test": "datum.value % 50 === 0", "value": 4}, "value": 2}}},
  "y": {"field": "mAV", "type": "quantitative", "scale": {"domain": [-6.2, 60.6], "nice": false, "zero": false}, "axis": {"title": "mAV", "tickCount": 33, "labelExpr": "datum.value % 10 === 0 && datum.value <= 50 ? format(datum.value, '~g') : ''", "tickSize": {"condition": {"test": "datum.value % 10 === 0", "value": 4}, "value": 2}}}}},
{"width": 265, "height": 162, "data": {"name": "sal_r"},
 "mark": {"type": "line", "color": "black", "strokeWidth": 1.8, "interpolate": "monotone", "clip": true},
 "encoding": {
  "x": {"field": "nm", "type": "quantitative", "scale": {"domain": [187.6, 600], "nice": false, "zero": false}, "axis": {"title": "НМ", "titleX": 265, "tickCount": 41, "labelExpr": "datum.value % 50 === 0 && datum.value >= 200 && datum.value <= 550 ? datum.label : ''", "tickSize": {"condition": {"test": "datum.value % 50 === 0", "value": 4}, "value": 2}}},
  "y": {"field": "mAV", "type": "quantitative", "scale": {"domain": [-2.1, 55.3], "nice": false, "zero": false}, "axis": {"title": "mAV", "tickCount": 29, "labelExpr": "datum.value % 10 === 0 && datum.value <= 50 ? format(datum.value, '~g') : ''", "tickSize": {"condition": {"test": "datum.value % 10 === 0", "value": 4}, "value": 2}}}}},
{"width": 265, "height": 171, "data": {"name": "van_r"},
 "mark": {"type": "line", "color": "black", "strokeWidth": 1.8, "interpolate": "monotone", "clip": true},
 "encoding": {
  "x": {"field": "nm", "type": "quantitative", "scale": {"domain": [188, 600], "nice": false, "zero": false}, "axis": {"title": "НМ", "titleX": 265, "tickCount": 41, "labelExpr": "datum.value % 50 === 0 && datum.value >= 200 && datum.value <= 550 ? datum.label : ''", "tickSize": {"condition": {"test": "datum.value % 50 === 0", "value": 4}, "value": 2}}},
  "y": {"field": "mAV", "type": "quantitative", "scale": {"domain": [-1.7, 20.3], "nice": false, "zero": false}, "axis": {"title": "mAV", "tickCount": 44, "labelExpr": "datum.value % 2.5 === 0 && datum.value <= 17.5 ? format(datum.value, '~g') : ''", "tickSize": {"condition": {"test": "datum.value % 2.5 === 0", "value": 4}, "value": 2}}}}}
]},
{"spacing": 141, "vconcat": [
{"width": 160, "height": 28, "data": {"name": "note"},
 "mark": {"type": "text", "align": "center", "baseline": "middle", "font": "Liberation Serif", "fontSize": 29, "fontWeight": "bold", "color": "black"},
 "encoding": {"text": {"field": "t", "type": "nominal"}}},
{"width": 265, "height": 165, "data": {"name": "gen_r"},
 "mark": {"type": "line", "color": "black", "strokeWidth": 1.8, "interpolate": "monotone", "clip": true},
 "encoding": {
  "x": {"field": "nm", "type": "quantitative", "scale": {"domain": [187, 595], "nice": false, "zero": false}, "axis": {"title": "НМ", "titleX": 265, "tickCount": 41, "labelExpr": "datum.value % 50 === 0 && datum.value >= 200 && datum.value <= 550 ? datum.label : ''", "tickSize": {"condition": {"test": "datum.value % 50 === 0", "value": 4}, "value": 2}}},
  "y": {"field": "mAV", "type": "quantitative", "scale": {"domain": [-1.6, 17.8], "nice": false, "zero": false}, "axis": {"title": "mAV", "tickCount": 39, "labelExpr": "datum.value % 2.5 === 0 && datum.value <= 15 ? format(datum.value, '~g') : ''", "tickSize": {"condition": {"test": "datum.value % 2.5 === 0", "value": 4}, "value": 2}}}}}
]},
{"spacing": 134, "vconcat": [
{"width": 160, "height": 28, "data": {"name": "note"},
 "mark": {"type": "text", "align": "center", "baseline": "middle", "font": "Liberation Serif", "fontSize": 29, "fontWeight": "bold", "color": "black"},
 "encoding": {"text": {"field": "t", "type": "nominal"}}},
{"width": 287, "height": 165, "data": {"name": "gal_r"},
 "mark": {"type": "line", "color": "black", "strokeWidth": 1.8, "interpolate": "monotone", "clip": true},
 "encoding": {
  "x": {"field": "nm", "type": "quantitative", "scale": {"domain": [185, 600], "nice": false, "zero": false}, "axis": {"title": "НМ", "titleX": 287, "tickCount": 41, "labelExpr": "datum.value % 50 === 0 && datum.value >= 200 && datum.value <= 550 ? datum.label : ''", "tickSize": {"condition": {"test": "datum.value % 50 === 0", "value": 4}, "value": 2}}},
  "y": {"field": "mAV", "type": "quantitative", "scale": {"domain": [-5, 38], "nice": false, "zero": false}, "axis": {"title": "mAV", "tickCount": 43, "labelExpr": "datum.value % 5 === 0 && datum.value <= 35 ? format(datum.value, '~g') : ''", "tickSize": {"condition": {"test": "datum.value % 5 === 0", "value": 4}, "value": 2}}}}}
]}
]
}
],
"config": {
 "view": {"stroke": null},
 "title": {"font": "Liberation Serif", "fontSize": 29, "fontWeight": "bold", "color": "black"},
 "axis": {"grid": false, "domainColor": "black", "domainWidth": 1.2, "tickColor": "black", "tickWidth": 1, "labelColor": "black", "labelFont": "Liberation Sans", "labelFontSize": 8, "labelPadding": 1, "labelOverlap": false, "labelFlush": false, "labelBound": false, "titleFont": "Liberation Sans", "titleFontWeight": "normal", "titleColor": "black"},
 "axisX": {"titleFontSize": 6, "titleAlign": "center", "titleBaseline": "top", "titleY": 5},
 "axisY": {"titleFontSize": 8, "titleAngle": 0, "titleAlign": "right", "titleBaseline": "middle", "titleX": -2, "titleY": 0}
}
}
